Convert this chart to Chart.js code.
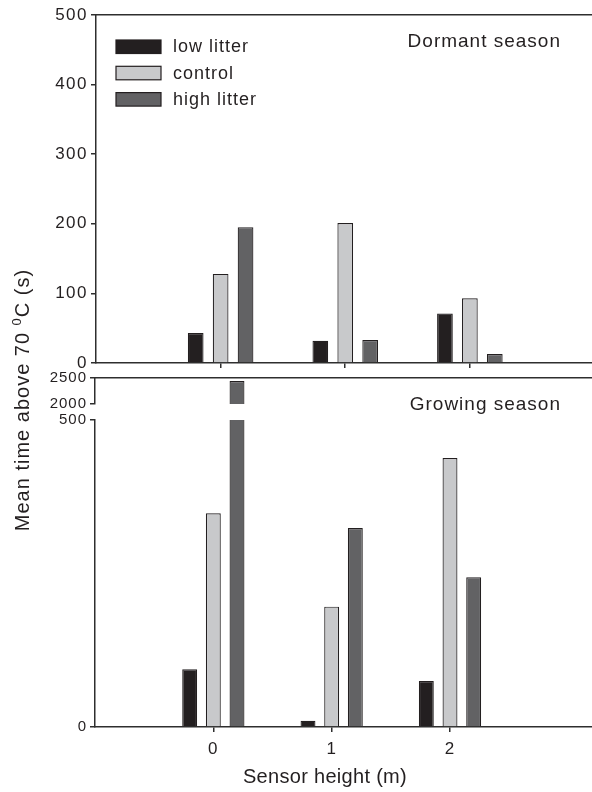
<!DOCTYPE html>
<html>
<head>
<meta charset="utf-8">
<script src="https://cdn.jsdelivr.net/npm/chart.js@4/dist/chart.umd.min.js"></script>
<style>
  html, body { margin: 0; padding: 0; background: #ffffff; }
  #wrap { position: relative; width: 592px; height: 792px; }
  #wrap canvas { position: absolute; left: 0; top: 0; }
</style>
</head>
<body>
<div id="wrap">
  <canvas id="dormant" width="592" height="792"></canvas>
  <canvas id="growingUpper" width="592" height="792"></canvas>
  <canvas id="growingLower" width="592" height="792"></canvas>
</div>
<script>
// Sensor heights (m) and the three litter treatments
const sensorHeights = [0, 1, 2];
const seriesNames = ['low litter', 'control', 'high litter'];

// Mean time above 70 °C (s), dormant season
const dormantLow = [43, 32, 71];
const dormantControl = [128, 201, 93];
const dormantHigh = [195, 33, 13];

// Mean time above 70 °C (s), growing season
const growingLow = [94, 10, 75];
const growingControl = [348, 196, 438];
const growingHigh = [2440, 324, 244];

// Tick values
const heightTicks = [0, 1, 2];
const dormantTicks = [0, 100, 200, 300, 400, 500];
const growingLowerTicks = [0, 500];
const growingUpperTicks = [2000, 2500];

const FONT = "'Liberation Sans', Arial, Helvetica, sans-serif";
const INK = '#231f20';
const AXIS = '#2e2e2e';
const seriesFill = ['#231f20', '#c8c9cb', '#626264'];

const W = 592, H = 792;

function toPoints(values) {
  return sensorHeights.map((h, i) => ({ x: h, y: values[i] }));
}

function makeDatasets(groups) {
  return groups.map((vals, i) => ({
    label: seriesNames[i],
    data: toPoints(vals),
    backgroundColor: seriesFill[i],
    borderColor: INK,
    borderWidth: 1.2,
    categoryPercentage: 0.6,
    barPercentage: 0.63,
    clip: 0
  }));
}

const fixWidth = w => scale => { scale.width = w; };
const fixHeight = h => scale => { scale.height = h; };
const useTicks = list => scale => { scale.ticks = list.map(v => ({ value: v })); };
const plainNumber = v => String(v);

function fillSpaced(ctx, text, x, y, size, spacing, align, baseline) {
  ctx.save();
  ctx.font = size + 'px ' + FONT;
  ctx.letterSpacing = spacing + 'px';
  ctx.fillStyle = INK;
  ctx.textAlign = align;
  ctx.textBaseline = baseline;
  ctx.fillText(text, x, y);
  ctx.restore();
}

// Wider character tracking for the tick labels drawn by the axes
const tracking = {
  id: 'tracking',
  beforeDraw(chart, args, opts) {
    chart.ctx.letterSpacing = (opts.spacing || 0) + 'px';
  }
};

// Text pinned to the chart area: panel captions, legend and axis titles
const annotations = {
  id: 'annotations',
  afterDraw(chart, args, opts) {
    const ctx = chart.ctx;
    const a = chart.chartArea;
    (opts.captions || []).forEach(c => {
      fillSpaced(ctx, c.text, a.right - c.dx, a.top + c.dy, 19, 1, 'right', 'middle');
    });
    if (opts.legend) {
      const boxL = a.left + 20, boxW = 45, boxH = 13.5;
      chart.data.datasets.forEach((ds, i) => {
        const top = a.top + 25 + i * 26.3;
        ctx.save();
        ctx.fillStyle = ds.backgroundColor;
        ctx.fillRect(boxL, top, boxW, boxH);
        ctx.strokeStyle = INK;
        ctx.lineWidth = 1.2;
        ctx.strokeRect(boxL, top, boxW, boxH);
        ctx.restore();
        fillSpaced(ctx, ds.label, boxL + boxW + 12, top + boxH / 2 + 0.5, 18, 1, 'left', 'middle');
      });
    }
    if (opts.axisTitles) {
      // horizontal axis title
      fillSpaced(ctx, 'Sensor height (m)', a.left + 230, a.bottom + 50, 20, 0.3, 'center', 'middle');
      // vertical axis title with a raised degree zero
      const runs = [
        { text: 'Mean time above 70 ', size: 20, rise: 0 },
        { text: '0', size: 13, rise: 8 },
        { text: 'C (s)', size: 20, rise: 0 }
      ];
      ctx.save();
      ctx.translate(29, 400);
      ctx.rotate(-Math.PI / 2);
      ctx.fillStyle = INK;
      ctx.letterSpacing = '1px';
      let total = 0;
      runs.forEach(r => {
        ctx.font = r.size + 'px ' + FONT;
        r.w = ctx.measureText(r.text).width;
        total += r.w;
      });
      let x = -total / 2;
      ctx.textAlign = 'left';
      ctx.textBaseline = 'alphabetic';
      runs.forEach(r => {
        ctx.font = r.size + 'px ' + FONT;
        ctx.fillText(r.text, x, -r.rise);
        x += r.w;
      });
      ctx.restore();
    }
  }
};

function baseOptions(padding, spacing) {
  return {
    responsive: false,
    animation: false,
    events: [],
    layout: { padding },
    plugins: {
      legend: { display: false },
      tooltip: { enabled: false },
      title: { display: false },
      tracking: { spacing }
    }
  };
}

function axisGrid(len) {
  return { drawOnChartArea: false, drawTicks: true, tickLength: len, color: AXIS, lineWidth: 1.5, offset: false };
}
const axisBorder = { display: true, color: AXIS, width: 1.5 };

// ---- Dormant season panel ----
const dormantOpts = baseOptions({ top: 15, right: 0, bottom: H - 363 - 10, left: 0 }, 1.5);
dormantOpts.plugins.annotations = {
  legend: true,
  captions: [{ text: 'Dormant season', dx: 31, dy: 27 }]
};
dormantOpts.scales = {
  x: {
    type: 'linear', min: -1, max: 2.98, offset: false,
    afterBuildTicks: useTicks(heightTicks),
    afterFit: fixHeight(10),
    grid: axisGrid(5), border: axisBorder,
    ticks: { display: false }
  },
  xTop: {
    type: 'linear', position: 'top', min: -1, max: 2.98, offset: false,
    afterFit: fixHeight(0),
    grid: { display: false }, border: axisBorder,
    ticks: { display: false }
  },
  y: {
    type: 'linear', min: 0, max: 500,
    afterBuildTicks: useTicks(dormantTicks),
    afterFit: fixWidth(96),
    grid: axisGrid(5), border: axisBorder,
    ticks: { color: INK, padding: 3, callback: plainNumber, font: { family: FONT, size: 17 } }
  }
};
new Chart(document.getElementById('dormant'), {
  type: 'bar',
  data: { datasets: makeDatasets([dormantLow, dormantControl, dormantHigh]) },
  options: dormantOpts,
  plugins: [tracking, annotations]
});

// ---- Growing season, upper segment of the broken axis (2000–2500) ----
const upperOpts = baseOptions({ top: 378, right: 0, bottom: H - 404, left: 0 }, 1);
upperOpts.scales = {
  x: {
    type: 'linear', min: -1, max: 3.2, offset: false, display: false,
    afterBuildTicks: useTicks(heightTicks)
  },
  xTop: {
    type: 'linear', position: 'top', min: -1, max: 3.2, offset: false,
    afterFit: fixHeight(0),
    grid: { display: false }, border: axisBorder,
    ticks: { display: false }
  },
  y: {
    type: 'linear', min: 2000, max: 2500,
    afterBuildTicks: useTicks(growingUpperTicks),
    afterFit: fixWidth(95),
    grid: axisGrid(5), border: axisBorder,
    ticks: { color: INK, padding: 3, callback: plainNumber, font: { family: FONT, size: 15 } }
  }
};
new Chart(document.getElementById('growingUpper'), {
  type: 'bar',
  data: { datasets: makeDatasets([growingLow, growingControl, growingHigh]) },
  options: upperOpts,
  plugins: [tracking]
});

// ---- Growing season, lower segment of the broken axis (0–500) ----
const lowerOpts = baseOptions({ top: 420, right: 0, bottom: 0, left: 0 }, 1);
lowerOpts.plugins.annotations = {
  axisTitles: true,
  captions: [{ text: 'Growing season', dx: 31, dy: -15 }]
};
lowerOpts.scales = {
  x: {
    type: 'linear', min: -1, max: 3.2, offset: false,
    afterBuildTicks: useTicks(heightTicks),
    afterFit: fixHeight(H - 727),
    grid: axisGrid(5), border: axisBorder,
    ticks: { color: INK, padding: 7, callback: plainNumber, font: { family: FONT, size: 17 } }
  },
  y: {
    type: 'linear', min: 0, max: 500,
    afterBuildTicks: useTicks(growingLowerTicks),
    afterFit: fixWidth(95),
    grid: axisGrid(5), border: axisBorder,
    ticks: { color: INK, padding: 3, callback: plainNumber, font: { family: FONT, size: 15 } }
  }
};
new Chart(document.getElementById('growingLower'), {
  type: 'bar',
  data: { datasets: makeDatasets([growingLow, growingControl, growingHigh]) },
  options: lowerOpts,
  plugins: [tracking, annotations]
});
</script>
</body>
</html>
